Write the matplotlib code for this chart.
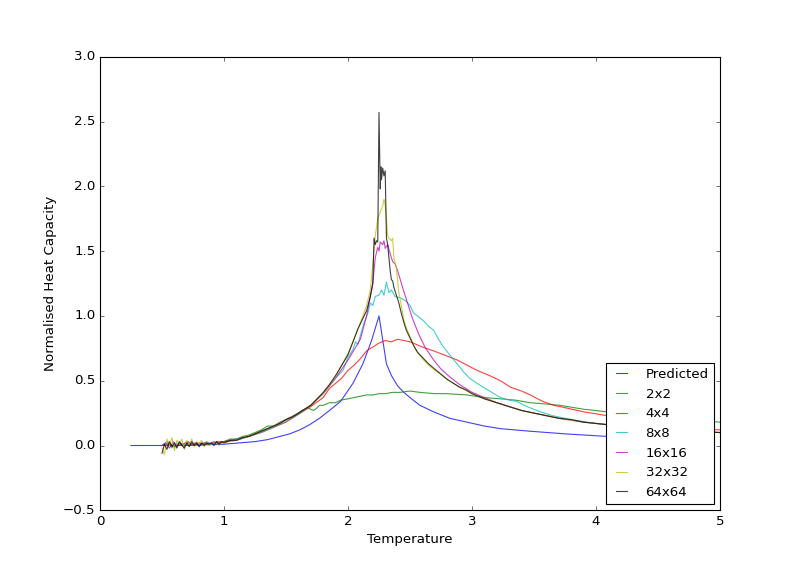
import matplotlib
matplotlib.use("Agg")
import matplotlib.pyplot as plt

plt.style.use('classic')

# Predicted (analytic)
t_pred = [0.25, 0.5, 0.75, 1.0, 1.25, 1.35, 1.53, 1.61, 1.69, 1.77, 1.85, 1.94, 2.04, 2.12, 2.19, 2.25,
          2.31, 2.35, 2.40, 2.45, 2.50, 2.58, 2.69, 2.82, 2.96, 3.10, 3.23, 3.47, 3.75, 4.09, 4.50]
c_pred = [0.0, 0.0, 0.002, 0.01, 0.03, 0.045, 0.09, 0.12, 0.16, 0.21, 0.27, 0.34, 0.48, 0.63, 0.81, 1.0,
          0.63, 0.54, 0.46, 0.41, 0.37, 0.31, 0.26, 0.21, 0.18, 0.15, 0.13, 0.11, 0.09, 0.07, 0.06]

# 2x2
t_2 = [0.50, 0.55, 0.60, 0.65, 0.70, 0.75, 0.80, 0.85, 0.90, 0.95, 1.00, 1.05, 1.10, 1.15, 1.20,
       1.25, 1.30, 1.35, 1.40, 1.45, 1.50, 1.55, 1.59, 1.63, 1.67, 1.70, 1.72, 1.75, 1.77, 1.80,
       1.85, 1.90, 1.94, 2.00, 2.05, 2.10, 2.15, 2.20, 2.25, 2.30, 2.36, 2.42, 2.50, 2.58, 2.70,
       2.80, 2.96, 3.10, 3.23, 3.35, 3.47, 3.60, 3.71, 3.90, 4.09, 4.30, 4.50, 4.75, 5.00]
c_2 = [0.00, 0.01, -0.01, 0.01, 0.00, 0.01, 0.01, 0.02, 0.01, 0.03, 0.03, 0.05, 0.05, 0.07, 0.08,
       0.10, 0.12, 0.15, 0.15, 0.18, 0.20, 0.22, 0.24, 0.27, 0.29, 0.28, 0.27, 0.29, 0.31, 0.31,
       0.33, 0.33, 0.35, 0.36, 0.37, 0.38, 0.39, 0.39, 0.40, 0.40, 0.41, 0.41, 0.42, 0.41, 0.40,
       0.40, 0.39, 0.37, 0.36, 0.35, 0.33, 0.32, 0.31, 0.28, 0.26, 0.24, 0.22, 0.20, 0.18]

# 4x4
t_4 = [0.50, 0.55, 0.60, 0.65, 0.70, 0.75, 0.80, 0.85, 0.90, 0.95, 1.00, 1.10, 1.20, 1.30, 1.40,
       1.50, 1.60, 1.70, 1.80, 1.85, 1.90, 1.95, 2.00, 2.05, 2.10, 2.15, 2.20, 2.25, 2.30, 2.35,
       2.40, 2.45, 2.50, 2.60, 2.69, 2.80, 2.88, 2.96, 3.04, 3.14, 3.23, 3.31, 3.40, 3.47, 3.57,
       3.66, 3.76, 3.90, 4.09, 4.30, 4.50, 4.75, 5.00]
c_4 = [0.00, 0.02, -0.01, 0.01, 0.02, 0.00, 0.02, 0.01, 0.02, 0.02, 0.03, 0.05, 0.07, 0.10, 0.14,
       0.18, 0.24, 0.30, 0.37, 0.44, 0.48, 0.52, 0.58, 0.62, 0.67, 0.73, 0.76, 0.79, 0.81, 0.80,
       0.82, 0.81, 0.80, 0.76, 0.73, 0.69, 0.66, 0.62, 0.58, 0.54, 0.50, 0.45, 0.42, 0.39, 0.34,
       0.31, 0.29, 0.26, 0.23, 0.20, 0.17, 0.14, 0.12]

# 8x8
t_8 = [0.50, 0.54, 0.58, 0.62, 0.66, 0.70, 0.74, 0.78, 0.82, 0.86, 0.90, 0.95, 1.00, 1.10, 1.20,
       1.30, 1.40, 1.50, 1.60, 1.70, 1.80, 1.90, 1.96, 2.00, 2.04, 2.06, 2.08, 2.10, 2.13, 2.16,
       2.18, 2.20, 2.22, 2.25, 2.27, 2.29, 2.31, 2.33, 2.35, 2.38, 2.42, 2.46, 2.50, 2.53, 2.56,
       2.60, 2.65, 2.69, 2.73, 2.77, 2.82, 2.88, 2.93, 2.98, 3.04, 3.09, 3.16, 3.23, 3.30, 3.36,
       3.42, 3.47, 3.55, 3.65, 3.80, 4.00, 4.20, 4.40, 4.60, 4.80, 5.00]
c_8 = [0.00, 0.03, -0.02, 0.02, 0.00, 0.03, 0.01, 0.02, 0.00, 0.03, 0.01, 0.03, 0.03, 0.05, 0.07,
       0.10, 0.14, 0.19, 0.24, 0.31, 0.40, 0.52, 0.58, 0.68, 0.74, 0.80, 0.78, 0.85, 0.95, 1.02,
       1.10, 1.08, 1.15, 1.16, 1.20, 1.16, 1.26, 1.18, 1.20, 1.15, 1.14, 1.12, 1.08, 1.02, 1.00,
       0.97, 0.92, 0.89, 0.82, 0.76, 0.70, 0.63, 0.57, 0.52, 0.48, 0.45, 0.41, 0.37, 0.35, 0.34,
       0.31, 0.29, 0.26, 0.23, 0.20, 0.17, 0.15, 0.13, 0.12, 0.11, 0.10]

# 16x16
t_16 = [0.50, 0.53, 0.56, 0.59, 0.62, 0.65, 0.68, 0.71, 0.74, 0.77, 0.80, 0.84, 0.88, 0.92, 0.96,
        1.00, 1.10, 1.20, 1.30, 1.40, 1.50, 1.60, 1.70, 1.80, 1.90, 2.00, 2.05, 2.10, 2.15, 2.18,
        2.20, 2.22, 2.24, 2.25, 2.26, 2.28, 2.29, 2.30, 2.32, 2.34, 2.36, 2.38, 2.40, 2.44, 2.48,
        2.52, 2.57, 2.62, 2.69, 2.75, 2.82, 2.90, 3.00, 3.10, 3.20, 3.30, 3.40, 3.50, 3.70, 3.90,
        4.10, 4.40, 4.70, 5.00]
c_16 = [0.00, 0.02, -0.02, 0.03, 0.00, 0.02, -0.01, 0.03, 0.01, 0.02, 0.00, 0.02, 0.01, 0.03, 0.01,
        0.03, 0.04, 0.07, 0.11, 0.15, 0.20, 0.25, 0.31, 0.40, 0.52, 0.66, 0.74, 0.82, 1.00, 1.15,
        1.25, 1.45, 1.53, 1.50, 1.57, 1.55, 1.58, 1.52, 1.55, 1.48, 1.42, 1.40, 1.35, 1.22, 1.10,
        0.98, 0.86, 0.76, 0.66, 0.59, 0.53, 0.47, 0.41, 0.37, 0.33, 0.30, 0.27, 0.25, 0.21, 0.18,
        0.16, 0.13, 0.11, 0.10]

# 32x32
t_32 = [0.50, 0.52, 0.54, 0.56, 0.58, 0.60, 0.62, 0.64, 0.66, 0.68, 0.70, 0.72, 0.74, 0.76, 0.78,
        0.80, 0.82, 0.84, 0.86, 0.88, 0.90, 0.92, 0.94, 0.96, 0.98, 1.00, 1.10, 1.20, 1.30, 1.40,
        1.50, 1.60, 1.70, 1.80, 1.90, 2.00, 2.04, 2.08, 2.12, 2.15, 2.18, 2.20, 2.22, 2.24, 2.26,
        2.28, 2.29, 2.30, 2.31, 2.32, 2.33, 2.35, 2.36, 2.37, 2.39, 2.41, 2.43, 2.45, 2.47, 2.50,
        2.53, 2.56, 2.60, 2.65, 2.70, 2.75, 2.80, 2.90, 3.00, 3.10, 3.20, 3.30, 3.40, 3.50, 3.70,
        3.90, 4.10, 4.40, 4.70, 5.00]
c_32 = [-0.02, -0.07, 0.05, 0.00, 0.06, -0.04, 0.04, 0.01, 0.05, -0.03, 0.04, 0.00, 0.05, -0.01, 0.03,
        0.01, 0.04, -0.01, 0.03, 0.00, 0.02, 0.01, 0.02, 0.00, 0.03, 0.02, 0.04, 0.07, 0.11, 0.15,
        0.20, 0.25, 0.31, 0.40, 0.53, 0.71, 0.80, 0.90, 1.00, 1.08, 1.20, 1.40, 1.62, 1.75, 1.80,
        1.85, 1.90, 1.86, 1.75, 1.62, 1.60, 1.58, 1.60, 1.45, 1.37, 1.18, 1.08, 0.97, 0.91, 0.84,
        0.77, 0.72, 0.67, 0.62, 0.58, 0.55, 0.51, 0.45, 0.40, 0.36, 0.33, 0.30, 0.27, 0.25, 0.21,
        0.18, 0.16, 0.13, 0.11, 0.10]

# 64x64
t_64 = [0.50, 0.52, 0.54, 0.56, 0.58, 0.60, 0.62, 0.64, 0.66, 0.68, 0.70, 0.72, 0.74, 0.76, 0.78,
        0.80, 0.82, 0.84, 0.86, 0.88, 0.90, 0.92, 0.94, 0.96, 0.98, 1.00, 1.05, 1.10, 1.15, 1.20,
        1.25, 1.30, 1.35, 1.40, 1.45, 1.50, 1.55, 1.60, 1.65, 1.70, 1.75, 1.80, 1.85, 1.90, 1.95,
        2.00, 2.04, 2.08, 2.12, 2.15, 2.18, 2.20, 2.21, 2.22, 2.23, 2.24, 2.25, 2.26, 2.265, 2.27,
        2.28, 2.29, 2.30, 2.31, 2.32, 2.33, 2.34, 2.35, 2.36, 2.37, 2.39, 2.41, 2.43, 2.45, 2.47,
        2.50, 2.53, 2.56, 2.60, 2.65, 2.70, 2.75, 2.80, 2.85, 2.90, 2.95, 3.00, 3.10, 3.20, 3.30,
        3.40, 3.50, 3.60, 3.70, 3.80, 3.90, 4.00, 4.20, 4.40, 4.60, 4.80, 5.00]
c_64 = [-0.06, 0.01, -0.03, 0.03, -0.01, 0.02, -0.02, 0.03, 0.00, -0.02, 0.02, -0.01, 0.03, 0.00, 0.02,
        -0.01, 0.02, 0.00, 0.02, 0.01, 0.02, 0.00, 0.03, 0.01, 0.03, 0.02, 0.04, 0.04, 0.06, 0.07,
        0.09, 0.11, 0.13, 0.15, 0.17, 0.20, 0.22, 0.25, 0.28, 0.31, 0.36, 0.41, 0.47, 0.54, 0.62,
        0.70, 0.80, 0.90, 0.98, 1.04, 1.15, 1.25, 1.60, 1.55, 1.58, 1.57, 2.57, 1.98, 2.15, 2.05,
        2.14, 2.08, 2.12, 1.60, 1.55, 1.45, 1.35, 1.28, 1.27, 1.22, 1.16, 1.10, 1.02, 0.95, 0.89,
        0.83, 0.77, 0.72, 0.68, 0.63, 0.59, 0.55, 0.51, 0.48, 0.45, 0.43, 0.40, 0.36, 0.33, 0.30,
        0.27, 0.25, 0.23, 0.21, 0.20, 0.18, 0.17, 0.15, 0.13, 0.12, 0.11, 0.10]

fig = plt.figure(figsize=(10, 7.0875), dpi=80)
ax = fig.add_subplot(111)
a = 0.75
ax.plot(t_pred, c_pred, color='b', alpha=a, label='Predicted')
ax.plot(t_2, c_2, color='g', alpha=a, label='2x2')
ax.plot(t_4, c_4, color='r', alpha=a, label='4x4')
ax.plot(t_8, c_8, color='c', alpha=a, label='8x8')
ax.plot(t_16, c_16, color='m', alpha=a, label='16x16')
ax.plot(t_32, c_32, color='y', alpha=a, label='32x32')
ax.plot(t_64, c_64, color='k', alpha=a, label='64x64')
ax.set_xlim(0, 5)
ax.set_ylim(-0.5, 3.0)
ax.set_xlabel('Temperature')
ax.set_ylabel('Normalised Heat Capacity')
ax.legend(loc='lower right', fontsize=12, labelspacing=0.5, handlelength=1.45,
          handletextpad=1.1, borderaxespad=0.45)
fig.savefig('out.png', dpi=80)
